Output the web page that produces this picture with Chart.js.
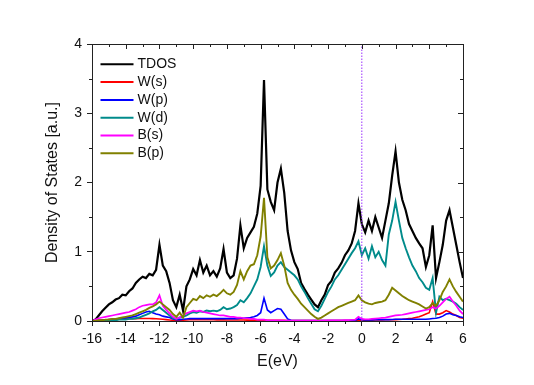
<!DOCTYPE html>
<html>
<head>
<meta charset="utf-8">
<script src="https://cdn.jsdelivr.net/npm/chart.js@4"></script>
<style>
  html, body { margin: 0; padding: 0; background: #fff; }
  canvas { display: block; }
</style>
</head>
<body>
<canvas id="dos" width="534" height="385"></canvas>
<script>
// energy grid (eV), 0.2 eV steps from -16 to 6
const energy = [
  -16, -15.8, -15.6, -15.4, -15.2, -15, -14.8, -14.6, -14.4, -14.2,
  -14, -13.8, -13.6, -13.4, -13.2, -13, -12.8, -12.6, -12.4, -12.2,
  -12, -11.8, -11.6, -11.4, -11.2, -11, -10.8, -10.6, -10.4, -10.2,
  -10, -9.8, -9.6, -9.4, -9.2, -9, -8.8, -8.6, -8.4, -8.2,
  -8, -7.8, -7.6, -7.4, -7.2, -7, -6.8, -6.6, -6.4, -6.2,
  -6, -5.8, -5.6, -5.4, -5.2, -5, -4.8, -4.6, -4.4, -4.2,
  -4, -3.8, -3.6, -3.4, -3.2, -3, -2.8, -2.6, -2.4, -2.2,
  -2, -1.8, -1.6, -1.4, -1.2, -1, -0.8, -0.6, -0.4, -0.2,
  0, 0.2, 0.4, 0.6, 0.8, 1, 1.2, 1.4, 1.6, 1.8,
  2, 2.2, 2.4, 2.6, 2.8, 3, 3.2, 3.4, 3.6, 3.8,
  4, 4.2, 4.4, 4.6, 4.8, 5, 5.2, 5.4, 5.6, 5.8,
  6
];

const tdos = [
  0, 0.02, 0.08, 0.14, 0.19, 0.24, 0.27, 0.31, 0.33, 0.38,
  0.37, 0.43, 0.47, 0.55, 0.6, 0.64, 0.62, 0.68, 0.66, 0.74,
  1.1, 0.8, 0.72, 0.55, 0.3, 0.2, 0.38, 0.15, 0.5, 0.6,
  0.75, 0.66, 0.88, 0.7, 0.8, 0.66, 0.72, 0.64, 0.76, 1.04,
  0.7, 0.62, 0.66, 0.9, 1.38, 1.05, 1.2, 1.28, 1.36, 1.55,
  1.95, 3.48, 1.9, 1.72, 1.6, 2.0, 2.2, 1.85, 1.3, 1.02,
  0.85, 0.75, 0.55, 0.46, 0.38, 0.31, 0.24, 0.2, 0.3, 0.38,
  0.52, 0.58, 0.7, 0.76, 0.84, 0.95, 1.02, 1.12, 1.3, 1.7,
  1.4, 1.28, 1.45, 1.3, 1.5, 1.35, 1.2, 1.45, 1.7, 2.1,
  2.45, 2.0, 1.75, 1.6, 1.4, 1.3, 1.2, 1.12, 1.05, 0.78,
  0.95, 1.38, 0.62, 0.85, 1.1, 1.45, 1.6, 1.35, 1.1, 0.85,
  0.62
];

const ws = [
  0, 0.005, 0.01, 0.012, 0.015, 0.02, 0.022, 0.025, 0.027, 0.03,
  0.03, 0.032, 0.034, 0.035, 0.036, 0.037, 0.037, 0.036, 0.035, 0.033,
  0.03, 0.025, 0.02, 0.015, 0.01, 0.008, 0.01, 0.012, 0.015, 0.017,
  0.018, 0.018, 0.018, 0.018, 0.017, 0.017, 0.017, 0.016, 0.016, 0.016,
  0.015, 0.015, 0.015, 0.014, 0.014, 0.014, 0.013, 0.013, 0.013, 0.012,
  0.012, 0.012, 0.011, 0.011, 0.01, 0.01, 0.009, 0.009, 0.008, 0.008,
  0.007, 0.007, 0.006, 0.006, 0.005, 0.005, 0.005, 0.005, 0.005, 0.005,
  0.005, 0.005, 0.006, 0.006, 0.007, 0.007, 0.008, 0.008, 0.009, 0.01,
  0.01, 0.011, 0.012, 0.013, 0.014, 0.015, 0.016, 0.017, 0.018, 0.019,
  0.02, 0.022, 0.025, 0.03, 0.035, 0.04, 0.05, 0.06, 0.08, 0.1,
  0.12, 0.28, 0.1, 0.1, 0.12, 0.15, 0.13, 0.1, 0.08, 0.05,
  0.04
];

const wp = [
  0, 0, 0.005, 0.01, 0.015, 0.02, 0.025, 0.03, 0.035, 0.04,
  0.045, 0.05, 0.06, 0.07, 0.09, 0.11, 0.13, 0.14, 0.12, 0.1,
  0.09, 0.07, 0.06, 0.05, 0.03, 0.02, 0.02, 0.025, 0.03, 0.035,
  0.035, 0.035, 0.035, 0.035, 0.035, 0.035, 0.035, 0.035, 0.035, 0.035,
  0.035, 0.035, 0.035, 0.035, 0.04, 0.04, 0.045, 0.05, 0.06, 0.08,
  0.12, 0.33, 0.16, 0.12, 0.15, 0.18, 0.17, 0.1, 0.03, 0.01,
  0.005, 0.005, 0.005, 0.005, 0.005, 0.005, 0.005, 0.005, 0.005, 0.005,
  0.005, 0.005, 0.005, 0.005, 0.005, 0.005, 0.008, 0.01, 0.012, 0.03,
  0.02, 0.015, 0.015, 0.016, 0.017, 0.018, 0.02, 0.02, 0.02, 0.022,
  0.025, 0.025, 0.025, 0.025, 0.025, 0.025, 0.025, 0.025, 0.025, 0.025,
  0.03, 0.035, 0.04, 0.05, 0.07, 0.1, 0.11, 0.09, 0.08, 0.06,
  0.05
];

const wd = [
  0, 0, 0, 0, 0, 0.01, 0.01, 0.01, 0.02, 0.02,
  0.02, 0.03, 0.03, 0.04, 0.05, 0.07, 0.09, 0.11, 0.14, 0.16,
  0.2, 0.16, 0.12, 0.08, 0.04, 0.03, 0.05, 0.06, 0.08, 0.11,
  0.13, 0.12, 0.14, 0.13, 0.15, 0.14, 0.15, 0.14, 0.16, 0.2,
  0.17, 0.18, 0.2, 0.23, 0.3, 0.27, 0.33, 0.4, 0.5, 0.6,
  0.78, 1.08, 0.8, 0.65, 0.7, 0.8, 0.85, 0.78, 0.74, 0.7,
  0.66, 0.6, 0.5, 0.42, 0.33, 0.25, 0.17, 0.14, 0.22, 0.32,
  0.42, 0.5, 0.6, 0.66, 0.74, 0.82, 0.9, 0.98, 1.05, 1.15,
  0.95, 1.05, 0.9, 1.08, 0.92, 1.0, 0.88, 0.8, 1.25, 1.45,
  1.72, 1.45, 1.2, 1.05, 0.92, 0.8, 0.72, 0.62, 0.56, 0.48,
  0.45, 0.62, 0.12, 0.35, 0.3, 0.32, 0.3, 0.28, 0.25, 0.2,
  0.16
];

const bs = [
  0, 0.02, 0.04, 0.05, 0.06, 0.07, 0.08, 0.09, 0.1, 0.11,
  0.12, 0.13, 0.15, 0.17, 0.2, 0.22, 0.23, 0.24, 0.24, 0.27,
  0.37, 0.22, 0.16, 0.11, 0.06, 0.03, 0.05, 0.08, 0.11, 0.13,
  0.15, 0.14, 0.15, 0.13, 0.12, 0.11, 0.1, 0.09, 0.08, 0.08,
  0.07, 0.06, 0.06, 0.05, 0.05, 0.04, 0.04, 0.03, 0.03, 0.02,
  0.02, 0.02, 0.01, 0.01, 0.01, 0.01, 0.01, 0.005, 0.005, 0.005,
  0.005, 0.005, 0.005, 0.005, 0.005, 0.005, 0.005, 0.005, 0.005, 0.005,
  0.008, 0.01, 0.01, 0.01, 0.01, 0.012, 0.014, 0.016, 0.02, 0.06,
  0.03, 0.025, 0.025, 0.03, 0.035, 0.04, 0.045, 0.05, 0.06, 0.07,
  0.08, 0.085, 0.09, 0.1, 0.11, 0.12, 0.13, 0.14, 0.15, 0.16,
  0.17, 0.2, 0.18, 0.22, 0.27, 0.32, 0.35, 0.28, 0.22, 0.15,
  0.1
];

const bp = [
  0, 0, 0.01, 0.01, 0.02, 0.02, 0.03, 0.03, 0.04, 0.05,
  0.06, 0.07, 0.08, 0.1, 0.12, 0.14, 0.16, 0.19, 0.21, 0.24,
  0.28, 0.24, 0.2, 0.16, 0.1, 0.06, 0.12, 0.05, 0.2, 0.26,
  0.32, 0.3, 0.36, 0.33, 0.37, 0.35, 0.38, 0.36, 0.4, 0.45,
  0.4, 0.38, 0.42, 0.52, 0.72, 0.6, 0.72, 0.8, 0.82, 0.95,
  1.22, 1.78, 0.92, 0.76, 0.8, 0.88, 0.98, 0.8, 0.55, 0.45,
  0.38, 0.32, 0.25, 0.2, 0.15, 0.1, 0.06, 0.03, 0.05, 0.08,
  0.11, 0.14, 0.17, 0.2, 0.22, 0.24, 0.26, 0.28, 0.3, 0.37,
  0.3, 0.27, 0.25, 0.24, 0.26, 0.27, 0.28, 0.3, 0.38, 0.48,
  0.44, 0.4, 0.36, 0.33, 0.3, 0.28, 0.26, 0.24, 0.21, 0.18,
  0.2, 0.26, 0.22, 0.3, 0.42, 0.5, 0.6, 0.5, 0.42, 0.35,
  0.28
];

// Fermi level marker
const fermiX = [0, 0];
const fermiY = [0, 4];

const xTicks = [-16, -14, -12, -10, -8, -6, -4, -2, 0, 2, 4, 6];
const yTicks = [0, 1, 2, 3, 4];

const FONT = '"Liberation Sans", Arial, sans-serif';

function pts(xs, ys) {
  return xs.map((e, i) => ({x: e, y: ys[i]}));
}

const series = [
  {label: 'TDOS', values: tdos, color: '#000000', width: 2.2},
  {label: 'W(s)', values: ws, color: '#ff0000', width: 1.6},
  {label: 'W(p)', values: wp, color: '#0000ff', width: 1.6},
  {label: 'W(d)', values: wd, color: '#008b8b', width: 1.9},
  {label: 'B(s)', values: bs, color: '#ff00ff', width: 1.7},
  {label: 'B(p)', values: bp, color: '#808000', width: 1.9}
];

const datasets = series.map((s, i) => ({
  label: s.label,
  data: pts(energy, s.values),
  borderColor: s.color,
  borderWidth: s.width,
  pointRadius: 0,
  tension: 0,
  fill: false,
  order: series.length - i + 1
}));

datasets.push({
  label: 'Ef',
  data: pts(fermiX, fermiY),
  borderColor: '#9b30ff',
  borderWidth: 1,
  borderDash: [1.5, 1.5],
  pointRadius: 0,
  fill: false,
  hideInLegend: true,
  order: 0
});

// frame with minor / mirrored ticks, and the legend inside the plot
const frame = {
  id: 'frame',
  afterDraw(chart) {
    const {ctx, chartArea: a, scales: {x, y}} = chart;
    const px = v => Math.round(v) + 0.5;
    ctx.save();
    ctx.strokeStyle = '#222';
    ctx.lineWidth = 1;
    ctx.strokeRect(px(a.left), px(a.top), Math.round(a.right) - Math.round(a.left), Math.round(a.bottom) - Math.round(a.top));
    ctx.beginPath();
    for (let e = x.min; e <= x.max; e += 1) {
      const xx = px(x.getPixelForValue(e));
      const major = xTicks.includes(e);
      const len = major ? 5 : 3;
      ctx.moveTo(xx, a.top); ctx.lineTo(xx, a.top + len);
      if (!major) { ctx.moveTo(xx, a.bottom); ctx.lineTo(xx, a.bottom + 3); }
    }
    for (let v = y.min; v <= y.max; v += 0.5) {
      const yy = px(y.getPixelForValue(v));
      const major = yTicks.includes(v);
      const len = major ? 5 : 3;
      ctx.moveTo(a.right, yy); ctx.lineTo(a.right - len, yy);
      if (!major) { ctx.moveTo(a.left, yy); ctx.lineTo(a.left - 3, yy); }
    }
    ctx.stroke();

    const x0 = a.left + 8.5, y0 = a.top + 20.3;
    ctx.font = '14px ' + FONT;
    ctx.textBaseline = 'middle';
    chart.data.datasets.filter(d => !d.hideInLegend).forEach((d, i) => {
      const yy = y0 + i * 17.8;
      ctx.strokeStyle = d.borderColor;
      ctx.lineWidth = 2;
      ctx.beginPath();
      ctx.moveTo(x0, yy);
      ctx.lineTo(x0 + 33, yy);
      ctx.stroke();
      ctx.fillStyle = '#111';
      ctx.fillText(d.label, x0 + 37, yy);
    });
    ctx.restore();
  }
};

new Chart(document.getElementById('dos'), {
  type: 'line',
  data: {datasets: datasets},
  plugins: [frame],
  options: {
    responsive: false,
    animation: false,
    devicePixelRatio: 1,
    layout: {padding: {left: 43, right: 71, top: 44, bottom: 14}},
    plugins: {legend: {display: false}, tooltip: {enabled: false}},
    scales: {
      x: {
        type: 'linear',
        min: -16,
        max: 6,
        afterFit: s => { s.height = 50; },
        afterBuildTicks: s => { s.ticks = xTicks.map(v => ({value: v})); },
        ticks: {color: '#111', padding: 5, font: {family: FONT, size: 14}, maxRotation: 0},
        grid: {display: true, drawOnChartArea: false, drawTicks: true, tickLength: 5, color: '#222'},
        border: {display: true, color: '#222', width: 1},
        title: {display: true, text: 'E(eV)', color: '#111', font: {family: FONT, size: 16}, padding: {top: 4, bottom: 0}}
      },
      y: {
        type: 'linear',
        min: 0,
        max: 4,
        afterFit: s => { s.width = 49; },
        afterBuildTicks: s => { s.ticks = yTicks.map(v => ({value: v})); },
        ticks: {color: '#111', padding: 5, font: {family: FONT, size: 14}},
        grid: {display: true, drawOnChartArea: false, drawTicks: true, tickLength: 5, color: '#222'},
        border: {display: true, color: '#222', width: 1},
        title: {display: true, text: 'Density of States [a.u.]', color: '#111', font: {family: FONT, size: 16}, padding: {top: 0, bottom: 0}}
      }
    }
  }
});
</script>
</body>
</html>
